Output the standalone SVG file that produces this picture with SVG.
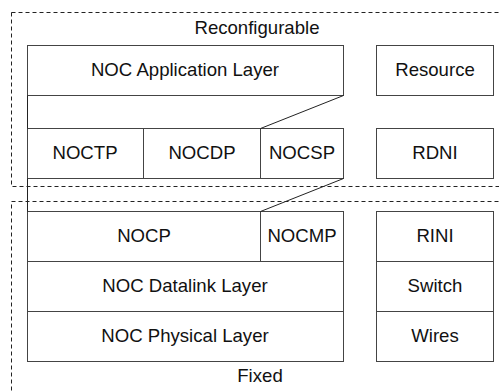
<svg xmlns="http://www.w3.org/2000/svg" width="499" height="391" viewBox="0 0 499 391">
<style>
.b{fill:#fff;stroke:#444;stroke-width:1}
.d{fill:none;stroke:#222;stroke-width:1;stroke-dasharray:4 3}
.l{fill:none;stroke:#222;stroke-width:1}
text{font-family:"Liberation Sans",Arial,sans-serif;font-size:18.6px;fill:#111;text-anchor:middle}
</style>
<rect width="499" height="391" fill="#fff"/>
<g id="reconfigurable">
<rect class="d" x="11.5" y="12.5" width="500" height="174"/>
<text x="257" y="34">Reconfigurable</text>
</g>
<g id="fixed">
<rect class="d" x="11.5" y="201.5" width="500" height="200"/>
<text x="260" y="382">Fixed</text>
</g>
<g id="app"><rect class="b" x="27.5" y="45.5" width="316" height="50"/><text x="185" y="76">NOC Application Layer</text></g>
<g id="noctp"><rect class="b" x="27.5" y="128.5" width="116" height="50"/><text x="85" y="159">NOCTP</text></g>
<g id="nocdp"><rect class="b" x="143.5" y="128.5" width="117" height="50"/><text x="202" y="159">NOCDP</text></g>
<g id="nocsp"><rect class="b" x="260.5" y="128.5" width="83" height="50"/><text x="302" y="159">NOCSP</text></g>
<g id="nocp"><rect class="b" x="27.5" y="211.5" width="233" height="50"/><text x="144" y="242">NOCP</text></g>
<g id="nocmp"><rect class="b" x="260.5" y="211.5" width="83" height="50"/><text x="302" y="242">NOCMP</text></g>
<g id="datalink"><rect class="b" x="27.5" y="261.5" width="316" height="50"/><text x="185" y="292">NOC Datalink Layer</text></g>
<g id="physical"><rect class="b" x="27.5" y="311.5" width="316" height="50"/><text x="185" y="342">NOC Physical Layer</text></g>
<g id="resource"><rect class="b" x="376.5" y="45.5" width="117" height="50"/><text x="435" y="76">Resource</text></g>
<g id="rdni"><rect class="b" x="376.5" y="128.5" width="117" height="50"/><text x="435" y="159">RDNI</text></g>
<g id="rini"><rect class="b" x="376.5" y="211.5" width="117" height="50"/><text x="435" y="242">RINI</text></g>
<g id="switch"><rect class="b" x="376.5" y="261.5" width="117" height="50"/><text x="435" y="292">Switch</text></g>
<g id="wires"><rect class="b" x="376.5" y="311.5" width="117" height="50"/><text x="435" y="342">Wires</text></g>
<g id="connectors">
<line class="l" x1="27.5" y1="95.5" x2="27.5" y2="128.5"/>
<line class="l" x1="27.5" y1="178.5" x2="27.5" y2="211.5"/>
<line class="l" x1="343.5" y1="95.5" x2="260.5" y2="128.5"/>
<line class="l" x1="343.5" y1="178.5" x2="260.5" y2="211.5"/>
</g>
</svg>
